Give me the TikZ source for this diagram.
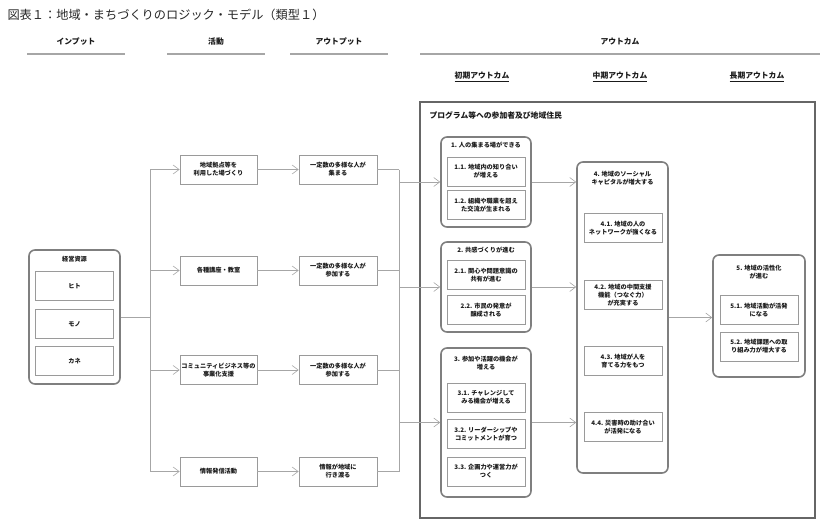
\documentclass[tikz,border=0pt]{standalone}
\usepackage{fontspec}
\setmainfont{Noto Sans CJK JP}
\usepackage{xcolor}
\usetikzlibrary{positioning,arrows.meta}

\definecolor{wiregray}{HTML}{A6A6A6}
\definecolor{boxgray}{HTML}{9A9A9A}
\definecolor{grpgray}{HTML}{7F7F7F}
\definecolor{txtdark}{HTML}{1A1A1A}

\begin{document}
\begin{tikzpicture}[
  x=1pt, y=-1pt,
  every node/.style={text=txtdark},
  ibox/.style={draw=boxgray, line width=0.8pt, rectangle, minimum width=78pt, minimum height=29pt,
    inner sep=1pt, align=center, font=\fontsize{6.2pt}{8pt}\selectfont\bfseries},
  grp/.style={draw=grpgray, line width=1.6pt, rectangle, rounded corners=6pt, inner sep=0pt},
  grptitle/.style={align=center, font=\fontsize{6.2pt}{8pt}\selectfont\bfseries},
  head/.style={font=\fontsize{7.8pt}{9pt}\selectfont\bfseries},
  headline/.style={draw=wiregray, line width=1.4pt},
  wire/.style={draw=wiregray, line width=0.8pt},
  arr/.style={wire, -{Straight Barb[length=6pt,width=9pt,line width=0.6pt]}}
]
\useasboundingbox (0,0) rectangle (826,525);

% Title
\node[anchor=west, font=\fontsize{12.2pt}{14pt}\selectfont, text=black!85] (title) at (4,15)
  {図表１：地域・まちづくりのロジック・モデル（類型１）};

% Column headers
\node[head] (hin) at (76,42) {インプット};
\node[head] (hact) at (216,42) {活動};
\node[head] (hout) at (339,42) {アウトプット};
\node[head] (hoc) at (620,42) {アウトカム};
\draw[headline] (27,54) -- (125,54);
\draw[headline] (167,54) -- (265,54);
\draw[headline] (290,54) -- (388,54);
\draw[headline] (420,54) -- (820,54);
\node[head] (hshort) at (482,77) {\underline{初期アウトカム}};
\node[head] (hmid) at (620,77) {\underline{中期アウトカム}};
\node[head] (hlong) at (757,77) {\underline{長期アウトカム}};

% Participants frame
\draw[draw=black!60, line width=1.6pt] (420,102) rectangle (815,518);
\node[anchor=west, font=\fontsize{7.8pt}{9pt}\selectfont\bfseries] (frametitle) at (426,115)
  {プログラム等への参加者及び地域住民};

% Input
\node[grp, minimum width=91pt, minimum height=134pt] (res) at (74.5,317) {};
\node[grptitle] (restitle) at (74.5,259) {経営資源};
\node[ibox] (hito) at (74.5,286) {ヒト};
\node[ibox] (mono) at (74.5,324) {モノ};
\node[ibox] (kane) at (74.5,361) {カネ};

% Activities
\node[ibox, minimum width=77pt] (act1) at (218.5,169.5) {地域拠点等を\\利用した場づくり};
\node[ibox, minimum width=77pt] (act2) at (218.5,270.5) {各種講座・教室};
\node[ibox, minimum width=77pt] (act3) at (218.5,370) {コミュニティビジネス等の\\事業化支援};
\node[ibox, minimum width=77pt] (act4) at (218.5,471.5) {情報発信活動};

% Outputs
\node[ibox] (out1) at (338,169.5) {一定数の多様な人が\\集まる};
\node[ibox] (out2) at (338,270.5) {一定数の多様な人が\\参加する};
\node[ibox] (out3) at (338,370) {一定数の多様な人が\\参加する};
\node[ibox] (out4) at (338,471.5) {情報が地域に\\行き渡る};

% Short-term outcomes
\node[grp, minimum width=90pt, minimum height=90pt] (grp1) at (486,182) {};
\node[grptitle] (grp1title) at (486,145) {1. 人の集まる場ができる};
\node[ibox] (o11) at (486,171.5) {1.1. 地域内の知り合い\\が増える};
\node[ibox] (o12) at (486,205) {1.2. 組織や職業を超え\\た交流が生まれる};

\node[grp, minimum width=90pt, minimum height=90pt] (grp2) at (486,287) {};
\node[grptitle] (grp2title) at (486,250) {2. 共感づくりが進む};
\node[ibox] (o21) at (486,275) {2.1. 関心や問題意識の\\共有が進む};
\node[ibox] (o22) at (486,310) {2.2. 市民の発意が\\醸成される};

\node[grp, minimum width=90pt, minimum height=149pt] (grp3) at (486,422.5) {};
\node[grptitle] (grp3title) at (486,363.5) {3. 参加や活躍の機会が\\増える};
\node[ibox] (o31) at (486,397.5) {3.1. チャレンジして\\みる機会が増える};
\node[ibox] (o32) at (486,434) {3.2. リーダーシップや\\コミットメントが育つ};
\node[ibox] (o33) at (486,471.5) {3.3. 企画力や運営力が\\つく};

% Mid-term outcome
\node[grp, minimum width=91pt, minimum height=311pt] (mid) at (622.5,317.5) {};
\node[grptitle] (midtitle) at (622.5,178) {4. 地域のソーシャル\\キャピタルが増大する};
\node[ibox] (o41) at (623,228) {4.1. 地域の人の\\ネットワークが強くなる};
\node[ibox] (o42) at (623,295) {4.2. 地域の中間支援\\機能（つなぐ力）\\が充実する};
\node[ibox] (o43) at (623,361) {4.3. 地域が人を\\育てる力をもつ};
\node[ibox] (o44) at (623,427) {4.4. 災害時の助け合い\\が活発になる};

% Long-term outcome
\node[grp, minimum width=92pt, minimum height=122pt] (long) at (759,316) {};
\node[grptitle] (longtitle) at (759,272) {5. 地域の活性化\\が進む};
\node[ibox] (o51) at (759,310) {5.1. 地域活動が活発\\になる};
\node[ibox] (o52) at (759,346.5) {5.2. 地域課題への取\\り組み力が増大する};

% Input to activities
\coordinate (busl) at (150,317);
\draw[wire] (res.east) -- (busl);
\draw[wire] (busl |- act1) -- (busl |- act4);
\foreach \n in {act1,act2,act3,act4}
  \draw[arr] (busl |- \n) -- (\n.west);

% Activities to outputs
\foreach \i in {1,2,3,4}
  \draw[arr] (act\i.east) -- (out\i.west);

% Outputs to short-term outcomes
\coordinate (busr) at (399,317);
\foreach \i in {1,2,3,4}
  \draw[wire] (out\i.east) -- (busr |- out\i);
\draw[wire] (busr |- out1) -- (busr |- out4);
\foreach \n in {grp1,grp2,grp3}
  \draw[arr] (busr |- \n) -- (\n.west);

% Short-term to mid-term to long-term
\foreach \n in {grp1,grp2,grp3}
  \draw[arr] (\n.east) -- (\n.east -| mid.west);
\draw[arr] (mid.east) -- (mid.east -| long.west);

\end{tikzpicture}
\end{document}
